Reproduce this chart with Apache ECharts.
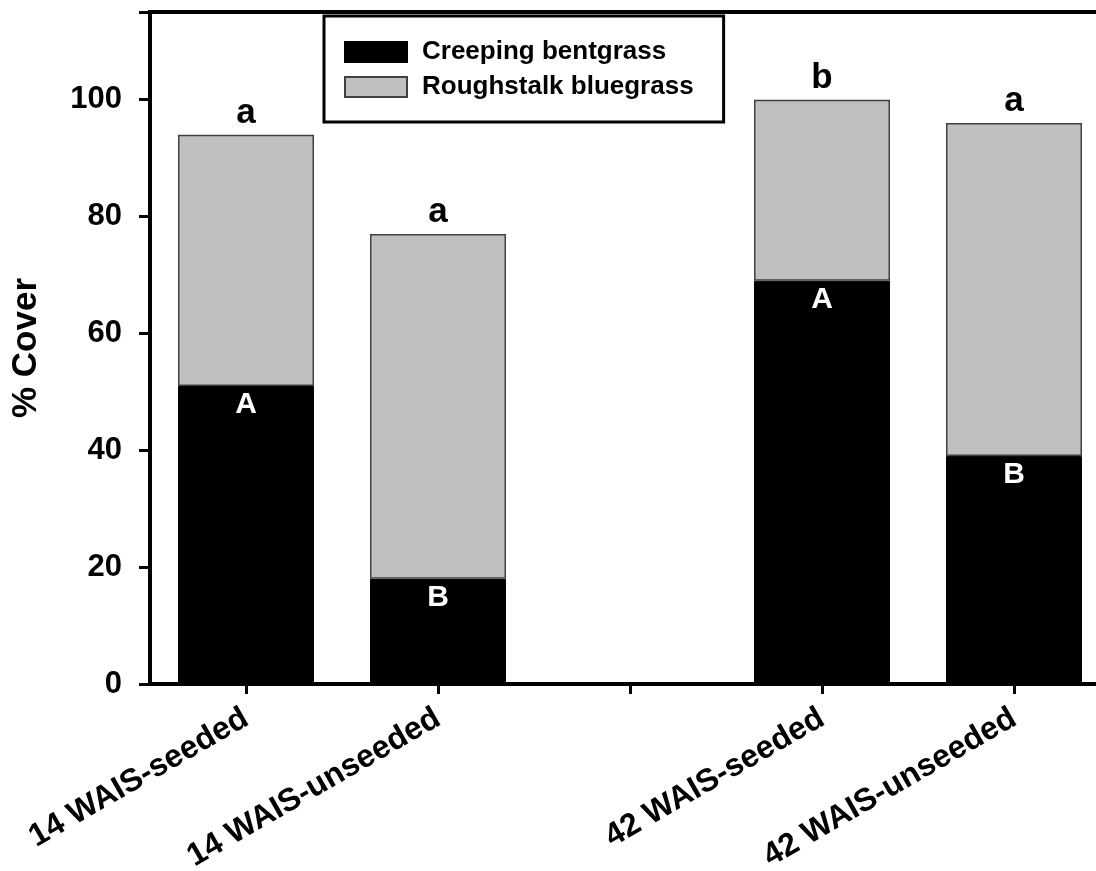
<!DOCTYPE html>
<html>
<head>
<meta charset="utf-8">
<script src="https://cdn.jsdelivr.net/npm/echarts@6/dist/echarts.min.js"></script>
<style>
html,body{margin:0;padding:0;background:#fff;overflow:hidden;}
#chart{width:1096px;height:871px;}
</style>
</head>
<body>
<div id="chart"></div>
<script>
var categories = ['14 WAIS-seeded', '14 WAIS-unseeded', '', '42 WAIS-seeded', '42 WAIS-unseeded'];
var creepingBentgrass = [51, 18, null, 69, 39];
var roughstalkBluegrass = [43, 59, null, 31, 57];
var insideLetters = ['A', 'B', '', 'A', 'B'];
var topLetters = ['a', 'a', '', 'b', 'a'];
var yTicks = [0, 20, 40, 60, 80, 100];

var FONT = '"Liberation Sans", Arial, Helvetica, sans-serif';
var chart = echarts.init(document.getElementById('chart'));
chart.setOption({
  animation: false,
  backgroundColor: '#fff',
  textStyle: {fontFamily: FONT},
  grid: {left: 150, width: 960, top: 12, height: 672, containLabel: false, outerBoundsMode: 'none', show: true, borderColor: '#000', borderWidth: 4, backgroundColor: 'transparent'},
  legend: {
    orient: 'vertical',
    left: 324, top: 16,
    padding: [23, 30, 22, 20],
    borderColor: '#000', borderWidth: 3,
    itemWidth: 62, itemHeight: 20, itemGap: 9,
    icon: 'rect',
    textStyle: {fontFamily: FONT, fontWeight: 'bold', fontSize: 26, color: '#000', padding: [0, 0, 0, 10]},
    data: ['Creeping bentgrass', 'Roughstalk bluegrass']
  },
  xAxis: {
    type: 'category',
    data: categories,
    axisLine: {lineStyle: {color: '#000', width: 4}},
    axisTick: {show: true, alignWithLabel: true, interval: 0, length: 10, lineStyle: {color: '#000', width: 3}},
    axisLabel: {interval: 0, rotate: 30, margin: 32, fontFamily: FONT, fontWeight: 'bold', fontSize: 32, color: '#000'},
    splitLine: {show: false}
  },
  yAxis: {
    type: 'value',
    min: 0, max: 115, interval: 20,
    name: '% Cover',
    nameLocation: 'middle',
    nameGap: 106,
    nameRotate: 90,
    nameTextStyle: {fontFamily: FONT, fontWeight: 'bold', fontSize: 35, color: '#000'},
    axisLine: {show: true, lineStyle: {color: '#000', width: 4}},
    axisTick: {show: true, length: 11, lineStyle: {color: '#000', width: 3}},
    axisLabel: {
      margin: 28, fontFamily: FONT, fontWeight: 'bold', fontSize: 31, color: '#000',
      formatter: function (v) { return yTicks.indexOf(v) >= 0 ? String(v) : ''; }
    },
    splitLine: {show: false}
  },
  series: [
    {
      name: 'Creeping bentgrass',
      type: 'bar', stack: 'cover', barWidth: 136,
      data: creepingBentgrass,
      itemStyle: {color: '#000', borderColor: '#000', borderWidth: 1},
      label: {
        show: true, position: 'insideTop', distance: 4,
        color: '#fff', fontFamily: FONT, fontWeight: 'bold', fontSize: 30,
        formatter: function (p) { return insideLetters[p.dataIndex]; }
      }
    },
    {
      name: 'Roughstalk bluegrass',
      type: 'bar', stack: 'cover', barWidth: 136,
      data: roughstalkBluegrass,
      itemStyle: {color: '#c0c0c0', borderColor: '#404040', borderWidth: 1.5},
      label: {
        show: true, position: 'top', distance: 4,
        color: '#000', fontFamily: FONT, fontWeight: 'bold', fontSize: 35,
        formatter: function (p) { return topLetters[p.dataIndex]; }
      }
    }
  ]
});
</script>
</body>
</html>
